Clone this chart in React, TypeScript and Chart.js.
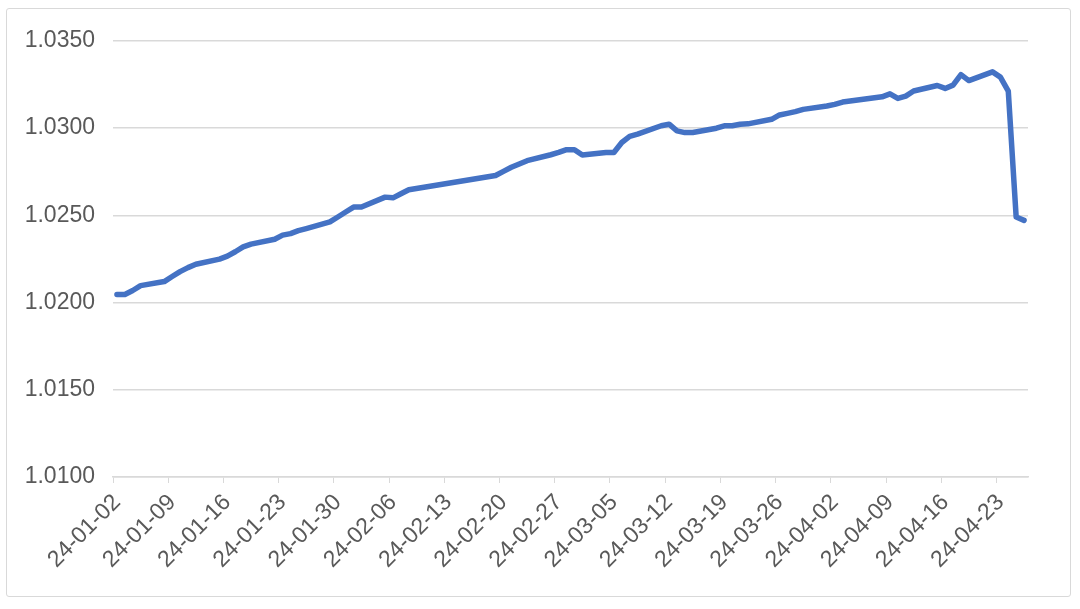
import React, { useEffect, useRef } from "react";
import { Chart, registerables } from "chart.js";

Chart.register(...registerables);

const dates = [
  "24-01-02", "24-01-03", "24-01-04", "24-01-05",
  "24-01-08", "24-01-09", "24-01-10", "24-01-11", "24-01-12",
  "24-01-15", "24-01-16", "24-01-17", "24-01-18", "24-01-19",
  "24-01-22", "24-01-23", "24-01-24", "24-01-25", "24-01-26",
  "24-01-29", "24-01-30", "24-01-31", "24-02-01", "24-02-02",
  "24-02-05", "24-02-06", "24-02-07", "24-02-08",
  "24-02-19", "24-02-20", "24-02-21", "24-02-22", "24-02-23",
  "24-02-26", "24-02-27", "24-02-28", "24-02-29", "24-03-01",
  "24-03-04", "24-03-05", "24-03-06", "24-03-07", "24-03-08",
  "24-03-11", "24-03-12", "24-03-13", "24-03-14", "24-03-15",
  "24-03-18", "24-03-19", "24-03-20", "24-03-21", "24-03-22",
  "24-03-25", "24-03-26", "24-03-27", "24-03-28", "24-03-29",
  "24-04-01", "24-04-02", "24-04-03",
  "24-04-08", "24-04-09", "24-04-10", "24-04-11", "24-04-12",
  "24-04-15", "24-04-16", "24-04-17", "24-04-18", "24-04-19",
  "24-04-22", "24-04-23", "24-04-24", "24-04-25", "24-04-26",
];

const values = [
  1.02046, 1.02046, 1.02069, 1.02097,
  1.0212, 1.02149, 1.02177, 1.022, 1.02219,
  1.02249, 1.02266, 1.02291, 1.02319, 1.02335,
  1.02363, 1.02386, 1.02395, 1.02412, 1.02424,
  1.02462, 1.0249, 1.02519, 1.02547, 1.02547,
  1.02604, 1.026, 1.02623, 1.02646,
  1.02728, 1.02752, 1.02775, 1.02794, 1.02813,
  1.02847, 1.0286, 1.02876, 1.02876, 1.02845,
  1.0286, 1.0286, 1.02917, 1.02952, 1.02965,
  1.03013, 1.03022, 1.02984, 1.02974, 1.02974,
  1.02999, 1.03013, 1.03013, 1.03022, 1.03024,
  1.0305, 1.03075, 1.03084, 1.03094, 1.03107,
  1.03126, 1.03136, 1.03149,
  1.03179, 1.03196, 1.0317, 1.03183, 1.03212,
  1.03244, 1.03227, 1.03246, 1.03306, 1.03272,
  1.03322, 1.03292, 1.03212, 1.0249, 1.02471,
];

const tickLabels = [
  "24-01-02", "24-01-09", "24-01-16", "24-01-23", "24-01-30",
  "24-02-06", "24-02-13", "24-02-20", "24-02-27", "24-03-05",
  "24-03-12", "24-03-19", "24-03-26", "24-04-02", "24-04-09",
  "24-04-16", "24-04-23",
];

const firstDay = "24-01-02";
const lastDay = "24-04-26";

function dayIndex(s: string): number {
  const [yy, mm, dd] = s.split("-").map(Number);
  const [y0, m0, d0] = firstDay.split("-").map(Number);
  return (Date.UTC(2000 + yy, mm - 1, dd) - Date.UTC(2000 + y0, m0 - 1, d0)) / 86400000;
}

const FONT = "'Liberation Sans', Arial, sans-serif";
const TEXT = "#595959";
const GRID = "#d9d9d9";

export default function App() {
  const ref = useRef<HTMLCanvasElement | null>(null);

  useEffect(() => {
    if (!ref.current) return;
    const chart = new Chart(ref.current, {
      type: "line",
      data: {
        datasets: [
          {
            data: dates.map((d, i) => ({ x: dayIndex(d), y: values[i] })),
            borderColor: "#4472C4",
            backgroundColor: "#4472C4",
            borderWidth: 5.5,
            pointRadius: 0,
            tension: 0,
            borderJoinStyle: "round",
            borderCapStyle: "round",
          },
        ],
      },
      options: {
        animation: false,
        responsive: false,
        maintainAspectRatio: false,
        layout: { padding: { left: 10, top: 29, right: 42, bottom: 0 } },
        plugins: { legend: { display: false }, tooltip: { enabled: false } },
        scales: {
          x: {
            type: "linear",
            min: dayIndex(firstDay) - 0.5,
            max: dayIndex(lastDay) + 0.5,
            afterBuildTicks: (axis: any) => {
              axis.ticks = tickLabels.map((t) => ({ value: dayIndex(t) - 0.5 }));
            },
            afterFit: (axis: any) => {
              axis.height = 119;
            },
            ticks: {
              autoSkip: false,
              minRotation: 45,
              maxRotation: 45,
              color: TEXT,
              font: { family: FONT, size: 23 },
              padding: 6,
              labelOffset: 4,
              callback: (_v: any, i: number) => tickLabels[i],
            },
            grid: {
              drawOnChartArea: false,
              drawTicks: true,
              tickLength: 6,
              color: GRID,
              lineWidth: 1,
            },
            border: { display: true, color: GRID, width: 1.5 },
          },
          y: {
            min: 1.01,
            max: 1.035,
            afterBuildTicks: (axis: any) => {
              axis.ticks = [1.01, 1.015, 1.02, 1.025, 1.03, 1.035].map((v) => ({ value: v }));
            },
            afterFit: (axis: any) => {
              axis.width = 96;
            },
            ticks: {
              color: TEXT,
              font: { family: FONT, size: 23 },
              padding: 18,
              callback: (v: any) => Number(v).toFixed(4),
            },
            grid: { color: GRID, lineWidth: 1.5, drawTicks: false },
            border: { display: false },
          },
        },
      },
    });
    return () => chart.destroy();
  }, []);

  return (
    <div
      style={{
        position: "absolute",
        left: 6,
        top: 8,
        width: 1065,
        height: 589,
        border: "1px solid #d9d9d9",
        borderRadius: 3,
        boxSizing: "border-box",
        background: "#fff",
      }}
    >
      <canvas ref={ref} width={1063} height={587} style={{ display: "block" }} />
    </div>
  );
}
